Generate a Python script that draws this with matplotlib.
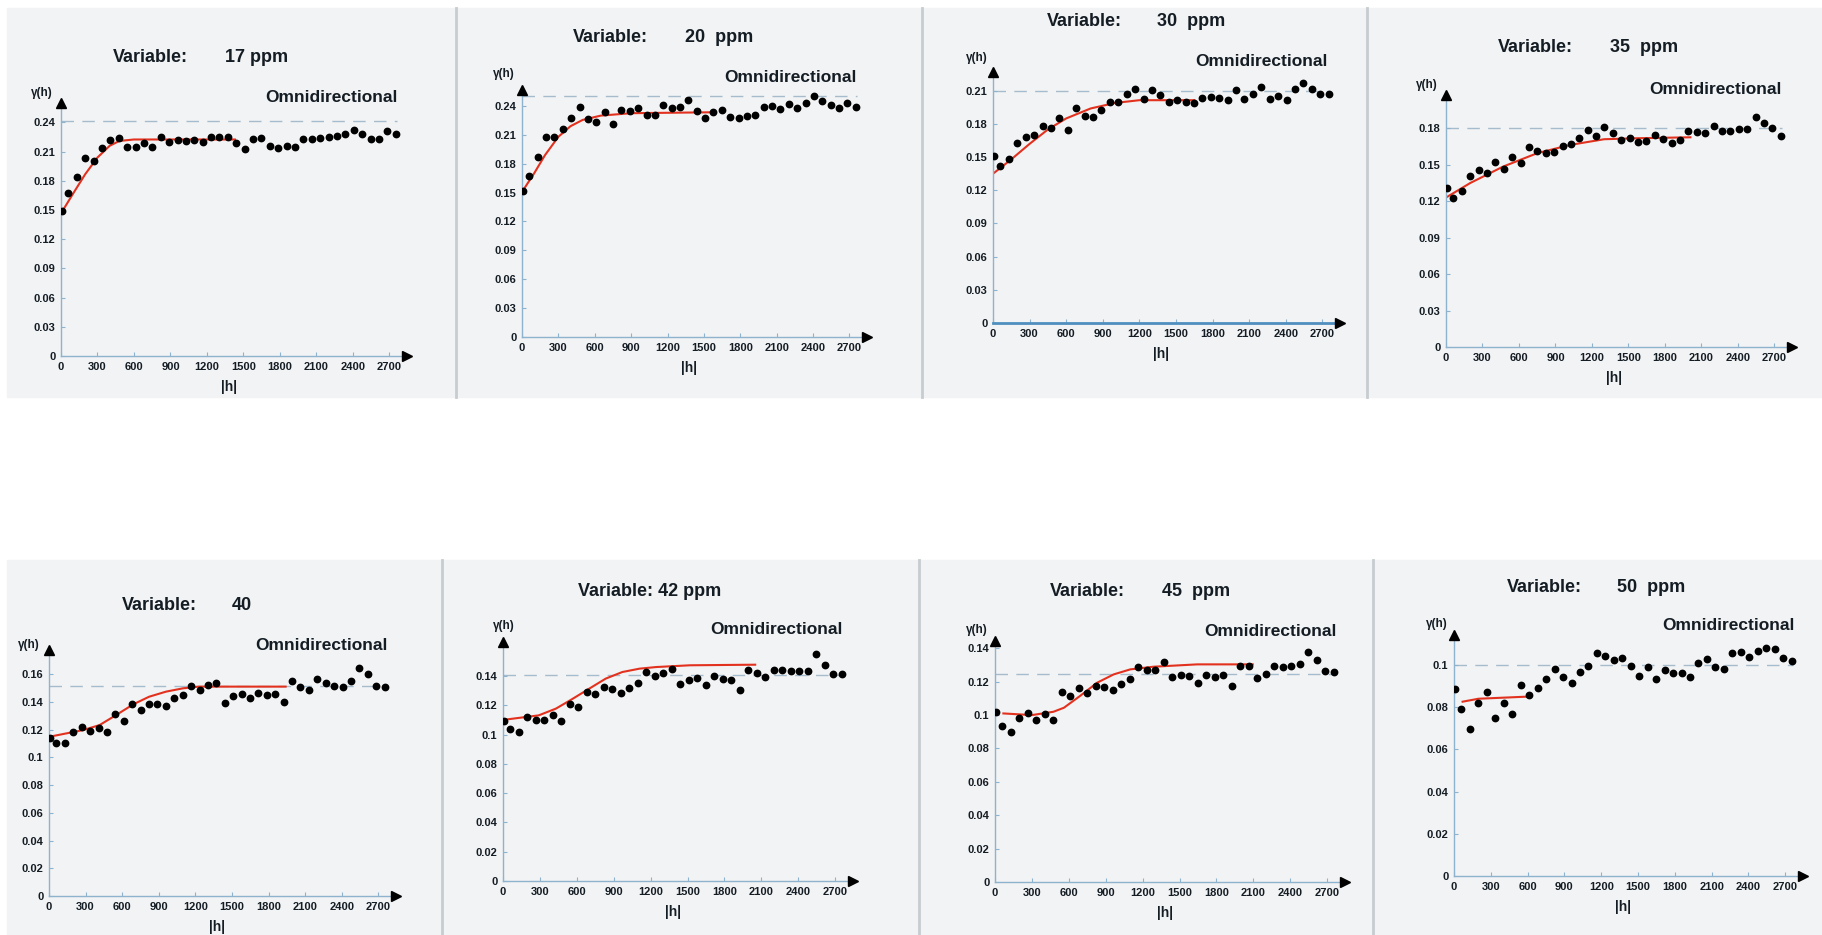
import numpy as np
import matplotlib.pyplot as plt
from matplotlib.patches import Rectangle
from matplotlib.lines import Line2D

plt.rcParams['font.family'] = ['Liberation Sans', 'DejaVu Sans']

W, H = 1822, 935

# lag distances (same for all panels)
lags = [12, 60, 130, 199, 268, 337, 406, 475, 544, 613, 682, 751, 820, 889,
        958, 1027, 1096, 1165, 1234, 1303, 1372, 1441, 1510, 1579, 1648, 1717,
        1786, 1855, 1924, 1993, 2062, 2131, 2200, 2269, 2338, 2407, 2476, 2545,
        2614, 2683, 2752]

# experimental semivariogram values
gam_17 = [0.1495, 0.168, 0.184, 0.203, 0.2005, 0.214, 0.2215, 0.224, 0.215, 0.215,
          0.219, 0.215, 0.225, 0.220, 0.222, 0.221, 0.222, 0.220, 0.225, 0.225,
          0.2255, 0.219, 0.2125, 0.223, 0.2245, 0.216, 0.214, 0.216, 0.215, 0.223,
          0.223, 0.224, 0.2255, 0.2265, 0.228, 0.2325, 0.228, 0.2235, 0.223, 0.231, 0.228]
gam_20 = [0.152, 0.1677, 0.1867, 0.208, 0.208, 0.216, 0.227, 0.2386, 0.2265, 0.2237,
          0.234, 0.221, 0.236, 0.235, 0.2375, 0.2306, 0.2306, 0.241, 0.2375, 0.239,
          0.246, 0.2348, 0.228, 0.2334, 0.236, 0.229, 0.227, 0.230, 0.2306, 0.2386,
          0.240, 0.2365, 0.2417, 0.2375, 0.2427, 0.2503, 0.2455, 0.241, 0.2375, 0.2427, 0.239]
gam_30 = [0.1509, 0.1421, 0.148, 0.163, 0.168, 0.170, 0.1785, 0.1765, 0.1856, 0.1744,
          0.194, 0.1874, 0.1865, 0.193, 0.200, 0.1995, 0.2067, 0.212, 0.2025, 0.2106,
          0.206, 0.1995, 0.202, 0.1995, 0.1986, 0.2037, 0.204, 0.2037, 0.2016, 0.2106,
          0.2025, 0.207, 0.213, 0.2025, 0.2052, 0.202, 0.212, 0.2173, 0.2112, 0.2067, 0.2067]
gam_35 = [0.1312, 0.123, 0.128, 0.1408, 0.1458, 0.1436, 0.1526, 0.1463, 0.1567, 0.1512,
          0.1649, 0.1614, 0.1595, 0.1608, 0.1658, 0.1668, 0.1718, 0.1786, 0.1737, 0.1808,
          0.1759, 0.1704, 0.1723, 0.1685, 0.1699, 0.1745, 0.171, 0.1677, 0.1704, 0.1778,
          0.1773, 0.1759, 0.1819, 0.1778, 0.1778, 0.1792, 0.1792, 0.1896, 0.1847, 0.180, 0.1737]
gam_40 = [0.1141, 0.110, 0.1104, 0.1184, 0.1215, 0.1191, 0.1208, 0.1179, 0.1311, 0.1263,
          0.1383, 0.134, 0.1385, 0.1383, 0.1369, 0.1429, 0.1448, 0.1513, 0.1485, 0.1521,
          0.1533, 0.1393, 0.1441, 0.1453, 0.1424, 0.146, 0.1448, 0.1456, 0.1396, 0.1552,
          0.1509, 0.1485, 0.1562, 0.1533, 0.1516, 0.1509, 0.155, 0.1646, 0.160, 0.1513, 0.1504]
gam_42 = [0.1093, 0.1036, 0.1017, 0.112, 0.1097, 0.1102, 0.1136, 0.1093, 0.1206, 0.1188,
          0.1291, 0.1275, 0.1325, 0.1313, 0.1286, 0.132, 0.1354, 0.1427, 0.140, 0.1423,
          0.145, 0.1348, 0.1375, 0.1386, 0.1336, 0.1398, 0.1382, 0.137, 0.1302, 0.1443,
          0.1423, 0.1393, 0.1443, 0.1439, 0.1434, 0.1432, 0.1432, 0.1548, 0.1477, 0.1416, 0.1416]
gam_45 = [0.102, 0.0934, 0.090, 0.0984, 0.1014, 0.0968, 0.1008, 0.097, 0.114, 0.1114,
          0.116, 0.1134, 0.1174, 0.1168, 0.1148, 0.1184, 0.1218, 0.129, 0.127, 0.127,
          0.1318, 0.1228, 0.124, 0.1234, 0.1194, 0.124, 0.123, 0.1238, 0.1174, 0.1294,
          0.1294, 0.1224, 0.1244, 0.1294, 0.1288, 0.1294, 0.1304, 0.138, 0.1328, 0.1264, 0.126]
gam_50 = [0.0884, 0.0791, 0.0696, 0.0821, 0.087, 0.075, 0.0821, 0.0766, 0.0905, 0.0858,
          0.0892, 0.0934, 0.0979, 0.0941, 0.0913, 0.0968, 0.0995, 0.1055, 0.1043, 0.1024,
          0.1032, 0.0995, 0.0948, 0.0992, 0.0932, 0.0976, 0.0964, 0.0964, 0.0945, 0.1011,
          0.1027, 0.0992, 0.0981, 0.1055, 0.1063, 0.104, 0.1066, 0.1082, 0.1074, 0.1032, 0.1019]

# fitted model curves
mod_17_h = [12, 100, 200, 300, 400, 480, 600, 1430]
mod_17_g = [0.149, 0.167, 0.187, 0.204, 0.216, 0.221, 0.2225, 0.2225]
mod_20_h = [12, 100, 190, 300, 400, 500, 650, 900, 1600]
mod_20_g = [0.153, 0.170, 0.189, 0.208, 0.219, 0.2255, 0.230, 0.2325, 0.2335]
mod_30_h = [0, 150, 300, 450, 600, 800, 1000, 1200, 1650]
mod_30_g = [0.135, 0.148, 0.162, 0.175, 0.185, 0.194, 0.199, 0.2015, 0.2015]
mod_35_h = [0, 200, 470, 750, 1020, 1300, 1570, 2010]
mod_35_g = [0.123, 0.135, 0.1485, 0.1595, 0.1663, 0.171, 0.1718, 0.1726]
mod_40_h = [5, 280, 415, 550, 690, 820, 960, 1100, 1230, 1940]
mod_40_g = [0.1148, 0.1196, 0.1232, 0.1304, 0.1381, 0.1436, 0.1473, 0.1497, 0.1509, 0.1509]
mod_42_h = [19, 290, 430, 560, 700, 835, 970, 1110, 1245, 1520, 2050]
mod_42_g = [0.1102, 0.1131, 0.1177, 0.1241, 0.1313, 0.1382, 0.1427, 0.145, 0.1461, 0.1473, 0.1477]
mod_45_h = [68, 300, 475, 560, 690, 830, 965, 1100, 1290, 1645, 2095]
mod_45_g = [0.101, 0.100, 0.102, 0.1044, 0.1114, 0.1194, 0.1244, 0.1274, 0.129, 0.1304, 0.1304]
mod_50_h = [70, 200, 400, 600]
mod_50_g = [0.0826, 0.0840, 0.0845, 0.0850]

# sample variance (dashed line)
sills = [0.241, 0.250, 0.21, 0.18, 0.151, 0.1405, 0.1244, 0.1]

titles_var = ["Variable:", "Variable:", "Variable:", "Variable:",
              "Variable:", "Variable: 42 ppm", "Variable:", "Variable:"]
titles_val = ["17 ppm", "20  ppm", "30  ppm", "35  ppm", "40", "", "45  ppm", "50  ppm"]

x_ticks = [0, 300, 600, 900, 1200, 1500, 1800, 2100, 2400, 2700]
y_ticks = [
    [0, 0.03, 0.06, 0.09, 0.12, 0.15, 0.18, 0.21, 0.24],
    [0, 0.03, 0.06, 0.09, 0.12, 0.15, 0.18, 0.21, 0.24],
    [0, 0.03, 0.06, 0.09, 0.12, 0.15, 0.18, 0.21],
    [0, 0.03, 0.06, 0.09, 0.12, 0.15, 0.18],
    [0, 0.02, 0.04, 0.06, 0.08, 0.1, 0.12, 0.14, 0.16],
    [0, 0.02, 0.04, 0.06, 0.08, 0.1, 0.12, 0.14],
    [0, 0.02, 0.04, 0.06, 0.08, 0.1, 0.12, 0.14],
    [0, 0.02, 0.04, 0.06, 0.08, 0.1],
]

gams = [gam_17, gam_20, gam_30, gam_35, gam_40, gam_42, gam_45, gam_50]
mods = [(mod_17_h, mod_17_g), (mod_20_h, mod_20_g), (mod_30_h, mod_30_g),
        (mod_35_h, mod_35_g), (mod_40_h, mod_40_g), (mod_42_h, mod_42_g),
        (mod_45_h, mod_45_g), (mod_50_h, mod_50_g)]

# layout in pixels: axes left, axes bottom (from top), width, height, y top
axes_px = [(61, 356, 346, 253, 0.26), (522, 337, 345, 247, 0.2566),
           (993, 323, 347, 251, 0.227), (1446, 347, 346, 252, 0.2074),
           (49, 896, 347, 246, 0.1773), (503, 881, 350, 239, 0.1632),
           (995, 882, 350, 241, 0.1444), (1454, 876, 349, 241, 0.1142)]
var_pos = [(113, 57), (573, 38), (1047, 22), (1498, 48),
           (122, 606), (578, 591), (1050, 592), (1507, 588)]
val_x = [225, 685, 1157, 1610, 232, None, 1162, 1617]
omni_pos = [(398, 97), (857, 78), (1328, 62), (1782, 90),
            (388, 645), (843, 630), (1337, 632), (1795, 625)]
gl_pos = [(53, 93), (515, 74), (988, 58), (1438, 85),
          (40, 645), (515, 626), (988, 630), (1448, 624)]

fig = plt.figure(figsize=(W / 100, H / 100), dpi=100)
fig.patch.set_facecolor('white')

bg = '#f2f3f4'
sep = '#c6cccf'
fig.add_artist(Rectangle((7 / W, 1 - 397 / H), (W - 7) / W, 389 / H,
                         transform=fig.transFigure, color=bg, zorder=0))
fig.add_artist(Rectangle((7 / W, 0), (W - 7) / W, 1 - 560 / H,
                         transform=fig.transFigure, color=bg, zorder=0))
for xs in [456, 922, 1367]:
    fig.add_artist(Line2D([xs / W, xs / W], [1 - 397 / H, 1 - 8 / H],
                          transform=fig.transFigure, color=sep, lw=2))
for xs in [442, 919, 1373]:
    fig.add_artist(Line2D([xs / W, xs / W], [0, 1 - 560 / H],
                          transform=fig.transFigure, color=sep, lw=2))

axis_col = '#8db3cf'
txt_col = '#141c24'

for i in range(8):
    l, b, w, h, ytop = axes_px[i]
    ax = fig.add_axes([l / W, 1 - b / H, w / W, h / H])
    ax.set_facecolor('none')
    ax.set_xlim(0, 2845)
    ax.set_ylim(0, ytop)
    for s in ['top', 'right']:
        ax.spines[s].set_visible(False)
    for s in ['left', 'bottom']:
        ax.spines[s].set_color(axis_col)
        ax.spines[s].set_linewidth(1.0)
    if i == 2:
        ax.spines['bottom'].set_color('#4f8fbf')
        ax.spines['bottom'].set_linewidth(2)

    ax.set_xticks(x_ticks)
    ax.set_xticklabels([str(v) for v in x_ticks])
    ax.set_yticks(y_ticks[i])
    ax.set_yticklabels([f"{v:g}" for v in y_ticks[i]])
    ax.tick_params(direction='in', length=3, color=axis_col, labelsize=8,
                   labelcolor=txt_col, pad=4)
    for lab in ax.get_xticklabels() + ax.get_yticklabels():
        lab.set_fontweight('bold')

    # sill
    ax.plot([0, 2760], [sills[i], sills[i]], color='#a6bccd', lw=1,
            ls=(0, (9, 6)), zorder=1)
    # model
    ax.plot(mods[i][0], mods[i][1], color='#e2321f', lw=1.5, zorder=2)
    # experimental points
    ax.plot(lags, gams[i], 'o', color='black', ms=4.6, zorder=3)

    # axis arrows
    ax.plot([1], [0], marker='>', color='black', ms=7, transform=ax.transAxes,
            clip_on=False, zorder=4)
    ax.plot([0], [1], marker='^', color='black', ms=7, transform=ax.transAxes,
            clip_on=False, zorder=4)

    ax.annotate('|h|', xy=(0.485, 0), xycoords='axes fraction', xytext=(0, -31),
                textcoords='offset pixels', ha='center', va='center',
                fontsize=10, fontweight='bold', color=txt_col)

    vx, vy = var_pos[i]
    fig.text(vx / W, 1 - vy / H, titles_var[i], ha='left', va='center',
             fontsize=13, fontweight='bold', color=txt_col)
    if val_x[i] is not None:
        fig.text(val_x[i] / W, 1 - vy / H, titles_val[i], ha='left', va='center',
                 fontsize=13, fontweight='bold', color=txt_col)
    ox, oy = omni_pos[i]
    fig.text(ox / W, 1 - oy / H, 'Omnidirectional', ha='right', va='center',
             fontsize=12.5, fontweight='bold', color=txt_col)
    gx, gy = gl_pos[i]
    fig.text(gx / W, 1 - gy / H, 'γ(h)', ha='right', va='center',
             fontsize=8.5, fontweight='bold', color=txt_col)

fig.savefig('out.png', dpi=100)
